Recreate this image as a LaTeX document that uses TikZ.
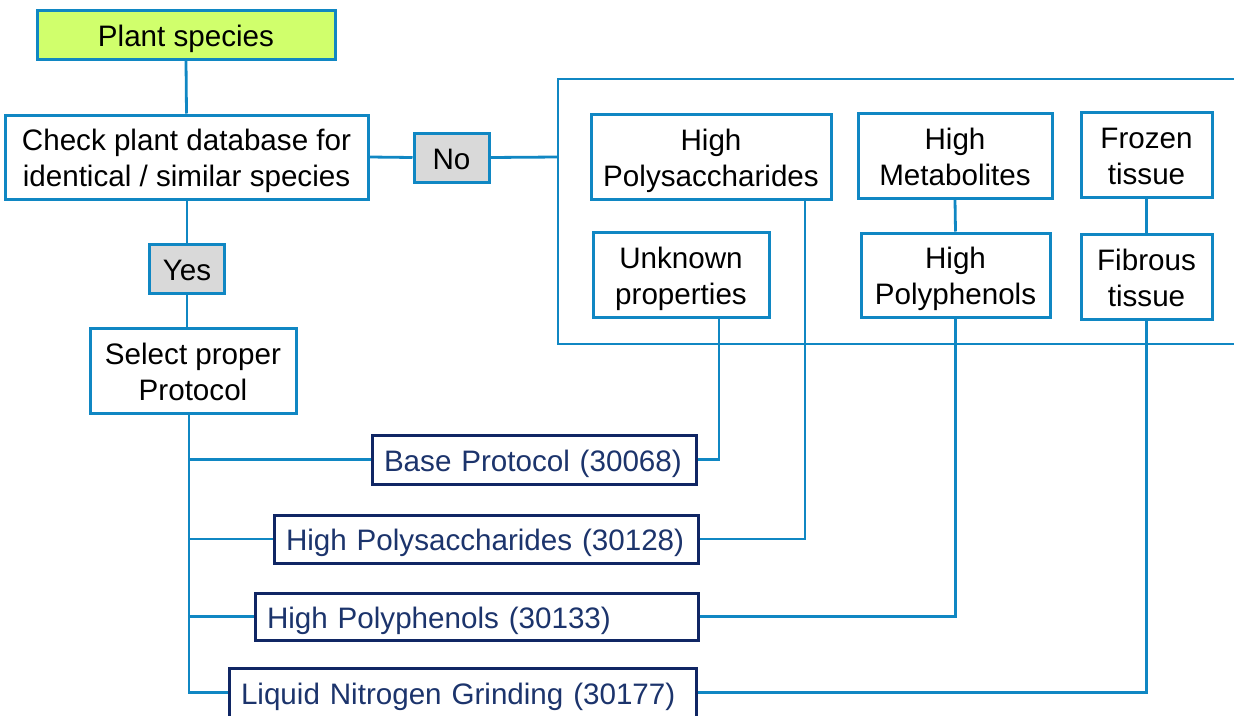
\documentclass[tikz,border=0pt]{standalone}
\usepackage{fontspec}
\setmainfont{Liberation Sans}
\definecolor{cblue}{RGB}{16,135,195}
\definecolor{cnavy}{RGB}{16,38,100}
\definecolor{ctext}{RGB}{28,52,108}
\definecolor{cgreen}{RGB}{208,255,108}
\definecolor{cgrey}{RGB}{217,217,217}
\begin{document}
\begin{tikzpicture}[x=1pt,y=-1pt,
  font=\fontsize{29.6}{36}\selectfont,
  box/.style={draw=cblue, line width=3pt, fill=white, align=center, inner sep=0pt},
  one/.style={text height=28pt, text depth=5pt},
  two/.style={text height=64pt, text depth=5pt},
  greybox/.style={box, one, fill=cgrey},
  greenbox/.style={box, one, fill=cgreen},
  pbox/.style={draw=cnavy, line width=3pt, fill=white, text=ctext, align=left, inner xsep=12pt, inner ysep=0pt, one},
  conn/.style={draw=cblue, line width=2.8pt}]
\useasboundingbox (0,0) rectangle (1234,715);
% bracket
\coordinate (bl) at (558,157);
\coordinate (btop) at (1234,79);
\coordinate (bbot) at (1234,344);
\draw[conn] (btop) -| (bbot -| bl) -- (bbot);
% left column
\node[greenbox, minimum width=298pt, minimum height=49pt] (plant) at (186,34.5) {Plant species};
\node[box, two, minimum width=363pt, minimum height=84pt] (check) at (186.5,157) {Check plant database for\\identical / similar species};
\node[greybox, minimum width=75pt, minimum height=49pt] (no) at (451.5,157.5) {No};
\node[greybox, minimum width=75pt, minimum height=49pt] (yes) at (187,268.5) {Yes};
\node[box, two, minimum width=206pt, minimum height=85pt] (select) at (193,370.5) {Select proper\\Protocol};
% property boxes
\node[box, two, minimum width=240pt, minimum height=85pt] (hpoly) at (711,156.5) {High\\Polysaccharides};
\node[box, two, minimum width=176pt, minimum height=85pt] (unknown) at (681,274.5) {Unknown\\properties};
\node[box, two, minimum width=194pt, minimum height=85pt] (hmeta) at (955,155.5) {High\\Metabolites};
\node[box, two, minimum width=189pt, minimum height=84pt] (hphen) at (955.5,275) {High\\Polyphenols};
\node[box, two, minimum width=131pt, minimum height=85pt] (frozen) at (1146.5,154.5) {Frozen\\tissue};
\node[box, two, minimum width=131pt, minimum height=85pt] (fibrous) at (1146.5,276.5) {Fibrous\\tissue};
% protocol boxes
\node[pbox, text width=300pt, minimum height=49pt] (base) at (534,459.5) {Base Protocol (30068)};
\node[pbox, text width=400pt, minimum height=48pt] (p128) at (486,539) {High Polysaccharides (30128)};
\node[pbox, text width=419pt, minimum height=47pt] (p133) at (476.5,616.5) {High Polyphenols (30133)};
\node[pbox, text width=443pt, minimum height=49pt] (p177) at (462.5,692.5) {Liquid Nitrogen Grinding (30177)};
% connectors
\draw[conn] (plant.south) -- (check.north);
\draw[conn] (check.east) -- (no.west);
\draw[conn] (no.east) -- (bl);
\draw[conn] (yes.north |- check.south) -- (yes.north);
\draw[conn] (yes.south) -- (yes.south |- select.north);
\coordinate (t) at (189,413);
\draw[conn] (t) |- (p177.west);
\draw[conn] (t |- base.west) -- (base.west);
\draw[conn] (t |- p128.west) -- (p128.west);
\draw[conn] (t |- p133.west) -- (p133.west);
\draw[conn] (base.east) -| ([xshift=38pt]unknown.south);
\draw[conn] (p128.east) -| ([xshift=94pt]hpoly.south);
\draw[conn] (p133.east) -| (hphen.south);
\draw[conn] (p177.east) -| (fibrous.south);
\draw[conn] (hmeta.south) -- (hphen.north);
\draw[conn] (frozen.south) -- (fibrous.north);
\end{tikzpicture}
\end{document}
